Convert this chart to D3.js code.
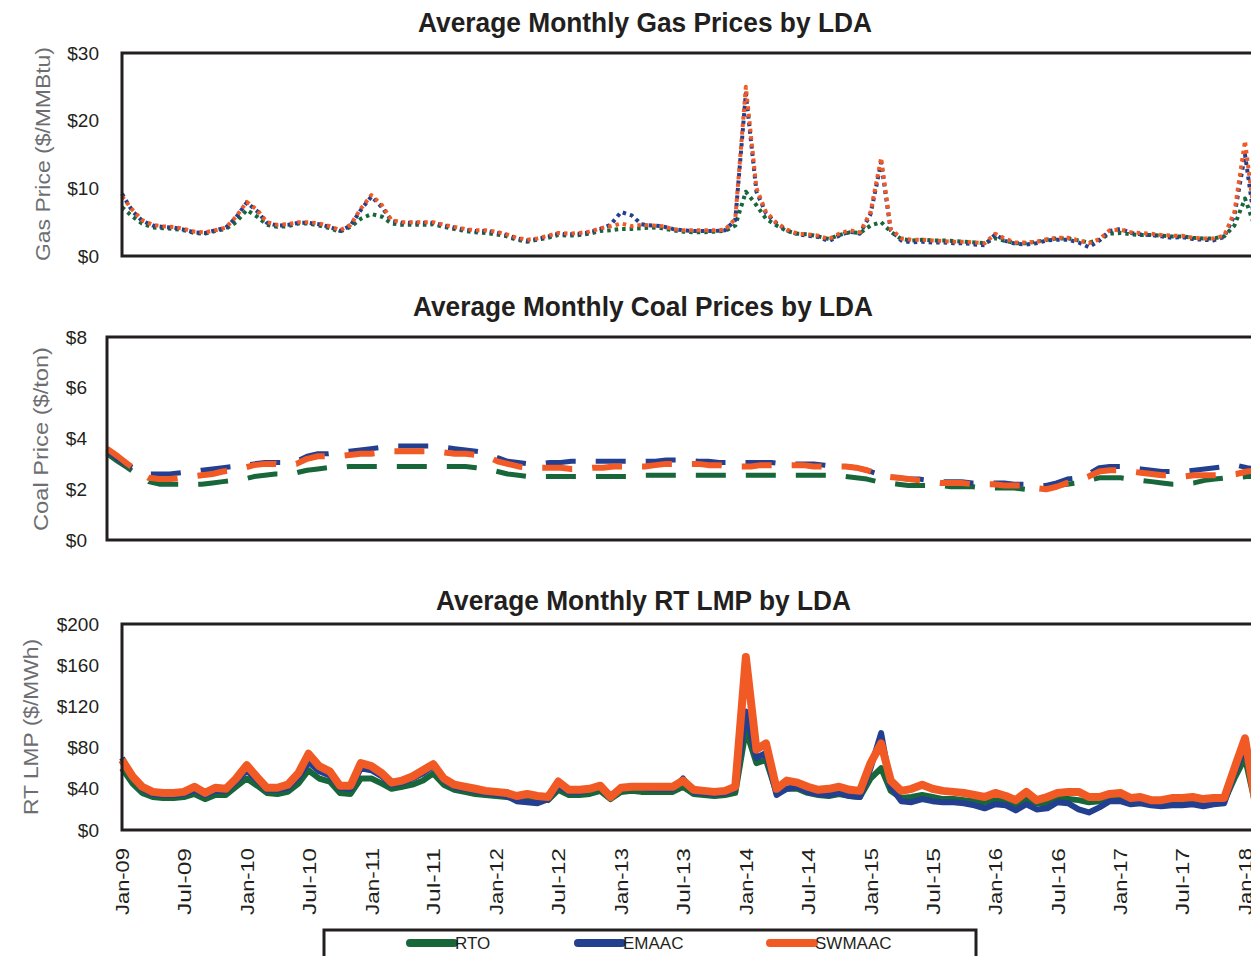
<!DOCTYPE html>
<html>
<head>
<meta charset="utf-8">
<script src="https://cdn.jsdelivr.net/npm/d3@7"></script>
<style>
  body { margin: 0; background: #fff; }
  svg text { font-family: "Liberation Sans Narrow", "Arial Narrow", "Liberation Sans", Arial, sans-serif; fill: #231f20; }
</style>
</head>
<body>
<script>
// Chart stuff
var width = 1251,
    height = 956;

// Monthly series start at Jan-09
var startMonth = "2009-01";
var tickLabels = ["Jan-09","Jul-09","Jan-10","Jul-10","Jan-11","Jul-11","Jan-12","Jul-12","Jan-13",
    "Jul-13","Jan-14","Jul-14","Jan-15","Jul-15","Jan-16","Jul-16","Jan-17","Jul-17","Jan-18"];
var seriesNames = ["RTO", "EMAAC", "SWMAAC"];

// Gas prices ($/MMBtu)
var gasRTO = [
    7.2, 5.8, 4.8, 4.2, 4.1, 4.0, 3.8, 3.4, 3.3, 3.7, 4.0, 5.0,
    6.8, 5.8, 4.6, 4.3, 4.4, 4.8, 4.8, 4.5, 4.1, 3.6, 4.3, 5.5,
    6.2, 5.8, 4.8, 4.6, 4.6, 4.6, 4.7, 4.3, 4.0, 3.7, 3.5, 3.4,
    3.2, 2.9, 2.4, 2.1, 2.4, 2.7, 3.1, 3.0, 3.1, 3.3, 3.7, 3.8,
    4.0, 4.0, 4.1, 4.2, 4.1, 3.8, 3.6, 3.5, 3.5, 3.6, 3.7, 4.5,
    9.5, 7.5, 5.5, 4.5, 3.7, 3.3, 3.2, 2.9, 2.5, 3.1, 3.5, 3.4,
    4.5, 5.0, 3.6, 2.5, 2.3, 2.4, 2.3, 2.3, 2.2, 2.1, 2.0, 1.9,
    2.6, 2.2, 1.9, 1.9, 2.1, 2.4, 2.6, 2.6, 2.3, 2.0, 2.4, 3.3,
    3.4, 3.2, 3.1, 3.1, 3.0, 2.9, 2.9, 2.7, 2.6, 2.6, 2.9, 4.5,
    8.5, 4.0];
var gasEMAAC = [
    9.2, 6.6, 5.2, 4.5, 4.3, 4.2, 3.9, 3.5, 3.4, 3.8, 4.2, 5.7,
    7.9, 6.6, 4.9, 4.5, 4.6, 4.9, 4.9, 4.7, 4.3, 3.7, 4.5, 6.8,
    8.8, 7.2, 5.2, 4.9, 4.9, 4.9, 4.9, 4.5, 4.2, 3.9, 3.7, 3.7,
    3.5, 3.1, 2.6, 2.3, 2.5, 2.9, 3.3, 3.2, 3.3, 3.5, 4.0, 4.6,
    6.5, 6.0, 4.7, 4.5, 4.4, 4.0, 3.8, 3.7, 3.7, 3.7, 3.8, 5.3,
    24.0, 9.5, 6.3, 4.8, 3.8, 3.2, 3.0, 2.8, 2.2, 3.0, 3.6, 3.3,
    6.2, 13.8, 3.8, 2.3, 2.0, 2.1, 2.0, 2.0, 1.9, 1.9, 1.7, 1.6,
    3.2, 2.2, 1.8, 1.7, 1.9, 2.3, 2.4, 2.4, 2.0, 1.3, 2.3, 3.7,
    4.0, 3.4, 3.2, 3.1, 2.9, 2.7, 2.8, 2.5, 2.4, 2.3, 2.8, 6.0,
    15.0, 4.0];
var gasSWMAAC = [
    8.8, 6.8, 5.3, 4.6, 4.4, 4.3, 4.0, 3.6, 3.5, 3.8, 4.2, 5.8,
    8.0, 6.8, 5.0, 4.6, 4.7, 5.0, 5.0, 4.8, 4.4, 3.8, 4.6, 7.0,
    9.0, 7.5, 5.3, 5.0, 5.0, 5.0, 5.0, 4.6, 4.3, 4.0, 3.8, 3.8,
    3.6, 3.2, 2.7, 2.4, 2.6, 3.0, 3.4, 3.3, 3.4, 3.6, 4.1, 4.4,
    4.8, 4.4, 4.6, 4.5, 4.4, 4.0, 3.8, 3.8, 3.8, 3.8, 3.9, 5.5,
    25.0, 10.0, 6.5, 4.9, 3.9, 3.3, 3.2, 3.0, 2.5, 3.3, 3.8, 3.5,
    6.5, 14.5, 4.0, 2.6, 2.4, 2.4, 2.3, 2.2, 2.1, 2.1, 2.0, 1.9,
    3.3, 2.5, 2.0, 2.0, 2.1, 2.5, 2.7, 2.7, 2.3, 1.9, 2.5, 3.8,
    3.9, 3.5, 3.4, 3.3, 3.1, 3.0, 3.0, 2.7, 2.6, 2.6, 3.0, 6.5,
    17.0, 4.5];

// Coal prices ($/ton)
var coalRTO = [
    3.4, 3.1, 2.85, 2.55, 2.3, 2.2, 2.2, 2.2, 2.2, 2.2, 2.25, 2.3,
    2.35, 2.4, 2.5, 2.55, 2.6, 2.6, 2.65, 2.75, 2.8, 2.85, 2.85, 2.9,
    2.9, 2.9, 2.9, 2.9, 2.9, 2.9, 2.9, 2.9, 2.9, 2.9, 2.9, 2.85,
    2.8, 2.7, 2.6, 2.55, 2.5, 2.5, 2.5, 2.5, 2.5, 2.5, 2.5, 2.5,
    2.5, 2.5, 2.5, 2.55, 2.55, 2.55, 2.55, 2.55, 2.55, 2.55, 2.55, 2.55,
    2.55, 2.55, 2.55, 2.55, 2.55, 2.55, 2.55, 2.55, 2.55, 2.55, 2.5, 2.45,
    2.4, 2.3, 2.25, 2.2, 2.15, 2.15, 2.15, 2.15, 2.1, 2.1, 2.1, 2.05,
    2.05, 2.05, 2.05, 2.0, 2.0, 2.05, 2.15, 2.2, 2.25, 2.35, 2.45, 2.45,
    2.45, 2.4, 2.35, 2.3, 2.25, 2.2, 2.2, 2.25, 2.35, 2.4, 2.45, 2.45,
    2.5, 2.5];
var coalEMAAC = [
    3.5, 3.2, 2.95, 2.75, 2.6, 2.6, 2.6, 2.65, 2.7, 2.75, 2.8, 2.85,
    2.9, 2.95, 3.0, 3.05, 3.05, 3.05, 3.1, 3.3, 3.4, 3.4, 3.45, 3.5,
    3.55, 3.6, 3.65, 3.7, 3.7, 3.7, 3.7, 3.7, 3.65, 3.6, 3.55, 3.5,
    3.45, 3.25, 3.1, 3.05, 3.0, 3.0, 3.05, 3.05, 3.1, 3.1, 3.1, 3.1,
    3.1, 3.1, 3.1, 3.1, 3.1, 3.15, 3.15, 3.15, 3.1, 3.1, 3.05, 3.05,
    3.05, 3.05, 3.05, 3.05, 3.0, 3.0, 3.0, 3.0, 2.95, 2.9, 2.9, 2.85,
    2.75, 2.6, 2.5, 2.45, 2.4, 2.4, 2.35, 2.3, 2.3, 2.3, 2.25, 2.25,
    2.25, 2.25, 2.2, 2.2, 2.15, 2.15, 2.25, 2.4, 2.45, 2.6, 2.85, 2.9,
    2.9, 2.85, 2.8, 2.75, 2.7, 2.7, 2.7, 2.75, 2.8, 2.85, 2.9, 2.95,
    2.85, 2.8];
var coalSWMAAC = [
    3.6, 3.3, 3.0, 2.7, 2.45, 2.4, 2.4, 2.45, 2.5, 2.55, 2.6, 2.7,
    2.75, 2.85, 2.95, 3.0, 3.0, 2.95, 3.0, 3.2, 3.3, 3.3, 3.3, 3.35,
    3.4, 3.4, 3.45, 3.5, 3.5, 3.5, 3.5, 3.5, 3.45, 3.4, 3.4, 3.35,
    3.3, 3.1, 3.0, 2.9, 2.85, 2.85, 2.85, 2.85, 2.8, 2.8, 2.85, 2.85,
    2.9, 2.9, 2.9, 2.9, 2.95, 3.0, 3.0, 3.0, 3.0, 2.95, 2.95, 2.9,
    2.9, 2.9, 2.95, 2.95, 2.95, 2.95, 2.95, 2.9, 2.9, 2.9, 2.9, 2.85,
    2.75, 2.6, 2.5, 2.45, 2.4, 2.35, 2.3, 2.25, 2.25, 2.25, 2.2, 2.2,
    2.2, 2.15, 2.15, 2.15, 2.05, 2.0, 2.1, 2.25, 2.35, 2.5, 2.7, 2.75,
    2.75, 2.7, 2.65, 2.6, 2.55, 2.55, 2.5, 2.55, 2.55, 2.55, 2.55, 2.6,
    2.7, 2.75];

// RT LMP ($/MWh)
var lmpRTO = [
    60, 45, 36, 32, 31, 31, 32, 35, 30, 34, 34, 42,
    50, 43, 36, 35, 37, 45, 58, 50, 47, 36, 35, 50,
    50, 45, 40, 42, 44, 48, 55, 44, 39, 37, 35, 34,
    33, 32, 31, 31, 30, 29, 39, 34, 34, 35, 38, 30,
    37, 38, 37, 37, 37, 37, 42, 35, 34, 33, 34, 36,
    97, 65, 68, 36, 40, 40, 36, 34, 33, 35, 33, 32,
    50, 60, 38, 31, 32, 34, 32, 30, 30, 29, 28, 27,
    30, 29, 25, 30, 26, 26, 31, 30, 29, 27, 28, 31,
    31, 28, 28, 27, 27, 28, 28, 28, 27, 28, 28, 50,
    70, 24];
var lmpEMAAC = [
    70, 50, 40, 35, 34, 34, 35, 39, 34, 38, 38, 47,
    58, 48, 39, 39, 41, 51, 66, 57, 53, 41, 40, 60,
    58, 52, 44, 46, 50, 55, 62, 48, 42, 40, 38, 36,
    35, 33, 28, 27, 26, 30, 43, 37, 37, 39, 42, 31,
    40, 41, 41, 40, 40, 40, 50, 37, 36, 35, 36, 40,
    115, 70, 75, 34, 40, 42, 37, 35, 34, 36, 33, 32,
    60, 94, 42, 28, 27, 30, 28, 27, 27, 26, 24, 21,
    25, 24, 19, 25, 20, 21, 27, 26, 20, 17, 22, 28,
    28, 25, 26, 24, 23, 24, 24, 25, 23, 25, 26, 55,
    80, 26];
var lmpSWMAAC = [
    68, 52, 42, 37, 36, 36, 37, 42, 36, 41, 40, 50,
    63, 51, 41, 41, 44, 55, 74, 62, 57, 43, 43, 65,
    62, 55, 46, 48, 52, 58, 64, 50, 44, 42, 40, 38,
    37, 36, 33, 35, 33, 32, 47, 39, 39, 40, 43, 32,
    41, 42, 42, 42, 42, 42, 48, 39, 38, 37, 38, 42,
    168, 78, 84, 40, 48, 46, 42, 39, 40, 42, 39, 38,
    65, 84, 48, 38, 40, 44, 40, 38, 37, 36, 34, 32,
    36, 33, 29, 37, 29, 32, 36, 37, 37, 32, 32, 35,
    36, 31, 32, 29, 29, 31, 31, 32, 30, 31, 31, 60,
    89, 26];

var colors = { RTO: '#17673a', EMAAC: '#233f8f', SWMAAC: '#f15a24' };
var parseMonth = d3.timeParse("%Y-%m");
var parseTick = d3.timeParse("%b-%y");
var firstMonth = parseMonth(startMonth);

function toPoints(values) {
    return values.map(function(v, i) { return { date: d3.timeMonth.offset(firstMonth, i), value: v }; });
}

var svg = d3.select("body").append("svg")
    .attr("width", width)
    .attr("height", height);

// Each panel: frame box, title, y axis and three lines
function drawPanel(opts) {
    var x = d3.scaleTime()
        .domain([parseTick("Jan-09"), parseTick("Jan-18")])
        .range([opts.left, opts.janLast]);
    var y = d3.scaleLinear()
        .domain([0, opts.max])
        .range([opts.bottom, opts.top]);

    var g = svg.append('g').attr('class', 'panel');

    g.append('text')
        .attr('x', opts.titleX)
        .attr('y', opts.titleY)
        .attr('textLength', opts.titleW)
        .attr('lengthAdjust', 'spacingAndGlyphs')
        .style('font-size', '27px')
        .style('font-weight', 'bold')
        .text(opts.title);

    var yAxis = d3.axisLeft(y)
        .tickValues(opts.ticks)
        .tickSize(0)
        .tickPadding(0)
        .tickFormat(function(d) { return '$' + d; });
    var ya = g.append('g')
        .attr('transform', 'translate(' + opts.tickX + ',0)')
        .call(yAxis);
    ya.select('.domain').remove();
    ya.selectAll('text')
        .style('font-size', '19px')
        .style('font-family', '"Liberation Sans Narrow", "Arial Narrow", "Liberation Sans", Arial, sans-serif')
        .attr('fill', '#231f20');

    g.append('text')
        .attr('transform', 'translate(' + opts.labelX + ',' + opts.labelY + ') rotate(-90)')
        .attr('text-anchor', 'middle')
        .attr('textLength', opts.labelW)
        .attr('lengthAdjust', 'spacingAndGlyphs')
        .style('font-size', '21px')
        .style('fill', '#6d6e71')
        .text(opts.yLabel);

    var line = d3.line()
        .x(function(d) { return x(d.date); })
        .y(function(d) { return y(d.value); });

    g.append('g').selectAll('path')
        .data(opts.series)
        .enter().append('path')
        .attr('d', function(d) { return line(toPoints(d.values)); })
        .attr('fill', 'none')
        .attr('stroke', function(d) { return colors[d.name]; })
        .attr('stroke-width', function(d) { return d.name === 'SWMAAC' ? opts.widthTop : opts.width; })
        .attr('stroke-dasharray', opts.dash)
        .attr('stroke-linejoin', 'round');

    g.append('rect')
        .attr('x', opts.left)
        .attr('y', opts.top)
        .attr('width', 1262 - opts.left)
        .attr('height', opts.bottom - opts.top)
        .attr('fill', 'none')
        .attr('stroke', '#231f20')
        .attr('stroke-width', 3);

    return x;
}

drawPanel({
    title: 'Average Monthly Gas Prices by LDA', titleX: 418, titleY: 32, titleW: 454,
    left: 122, janLast: 1245, top: 53, bottom: 256, max: 30, ticks: [0, 10, 20, 30], tickX: 99,
    yLabel: 'Gas Price ($/MMBtu)', labelX: 50, labelY: 154, labelW: 214,
    series: [{ name: 'RTO', values: gasRTO }, { name: 'EMAAC', values: gasEMAAC }, { name: 'SWMAAC', values: gasSWMAAC }],
    width: 4, widthTop: 4, dash: '3.5,4'
});

drawPanel({
    title: 'Average Monthly Coal Prices by LDA', titleX: 413, titleY: 316, titleW: 460,
    left: 107, janLast: 1247, top: 337, bottom: 540, max: 8, ticks: [0, 2, 4, 6, 8], tickX: 87,
    yLabel: 'Coal Price ($/ton)', labelX: 48, labelY: 439, labelW: 184,
    series: [{ name: 'RTO', values: coalRTO }, { name: 'EMAAC', values: coalEMAAC }, { name: 'SWMAAC', values: coalSWMAAC }],
    width: 5, widthTop: 6, dash: '30,20'
});

var xLmp = drawPanel({
    title: 'Average Monthly RT LMP by LDA', titleX: 436, titleY: 610, titleW: 415,
    left: 122, janLast: 1245, top: 624, bottom: 830, max: 200, ticks: [0, 40, 80, 120, 160, 200], tickX: 99,
    yLabel: 'RT LMP ($/MWh)', labelX: 38, labelY: 727, labelW: 176,
    series: [{ name: 'RTO', values: lmpRTO }, { name: 'EMAAC', values: lmpEMAAC }, { name: 'SWMAAC', values: lmpSWMAAC }],
    width: 6, widthTop: 8, dash: null
});

// Month labels under the LMP panel
var xAxis = d3.axisBottom(xLmp)
    .tickValues(tickLabels.map(parseTick))
    .tickSize(0)
    .tickFormat(d3.timeFormat('%b-%y'));
var xa = svg.append('g')
    .attr('transform', 'translate(0,848)')
    .call(xAxis);
xa.select('.domain').remove();
xa.selectAll('text')
    .attr('transform', 'rotate(-90)')
    .attr('x', 0)
    .attr('y', 0)
    .attr('dx', 0)
    .attr('dy', '0.35em')
    .attr('text-anchor', 'end')
    .attr('textLength', 67)
    .attr('lengthAdjust', 'spacingAndGlyphs')
    .attr('fill', '#231f20')
    .style('font-size', '19px')
    .style('font-family', '"Liberation Sans Narrow", "Arial Narrow", "Liberation Sans", Arial, sans-serif');

// Legend
var legend = svg.append('g').attr('class', 'legend');
legend.append('rect')
    .attr('x', 324).attr('y', 930)
    .attr('width', 652).attr('height', 40)
    .attr('fill', 'none')
    .attr('stroke', '#231f20')
    .attr('stroke-width', 3);

var legendX = d3.scaleOrdinal().domain(seriesNames).range([410, 578, 770]);
var items = legend.selectAll('g.item')
    .data(seriesNames)
    .enter().append('g').attr('class', 'item')
    .attr('transform', function(d) { return 'translate(' + legendX(d) + ',943)'; });
items.append('line')
    .attr('x1', 0).attr('x2', 44)
    .attr('stroke', function(d) { return colors[d]; })
    .attr('stroke-width', 8)
    .attr('stroke-linecap', 'round');
items.append('text')
    .attr('x', 45)
    .attr('y', 6)
    .style('font-size', '17px')
    .text(function(d) { return d; });
</script>
</body>
</html>
